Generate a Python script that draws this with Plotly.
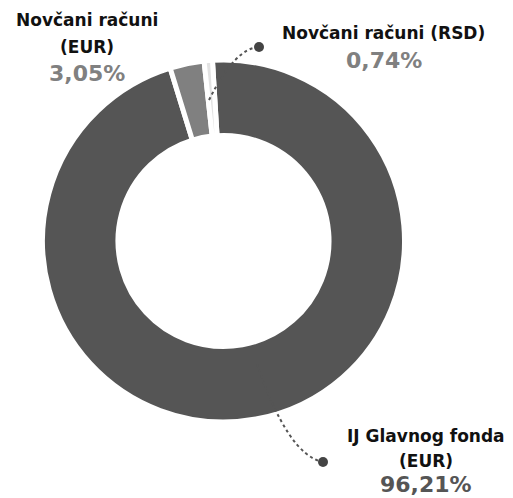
import plotly.graph_objects as go

# Data
labels = ["IJ Glavnog fonda (EUR)", "Novčani računi (EUR)", "Novčani računi (RSD)"]
values = [96.21, 3.05, 0.74]
colors = ["#555555", "#808080", "#e2e2e2"]
pct_colors = ["#555555", "#808080", "#808080"]

W, H = 513, 498

def px(x):
    return x / W

def py(y):
    return 1 - y / H

cx, cy, R = 223.5, 241, 181

fig = go.Figure(go.Pie(
    labels=labels,
    values=values,
    sort=False,
    direction="clockwise",
    rotation=-3.5,
    hole=0.583,
    marker=dict(colors=colors, line=dict(color="white", width=5)),
    textinfo="none",
    hoverinfo="label+percent",
    domain=dict(x=[px(cx - R), px(cx + R)], y=[py(cy + R), py(cy - R)]),
))

def fmt(v):
    return f"{v:.2f}".replace(".", ",") + "%"

lab_font = dict(family="DejaVu Sans, sans-serif", size=17, color="#111111", weight=700)
pct_font = dict(family="DejaVu Sans, sans-serif", size=22, weight=700)

# label blocks: (lines, center x, line mid ys, pct y, index)
blocks = [
    (["Novčani računi", "(EUR)"], 86.5, [20.5, 47], 73, 1),
    (["Novčani računi (RSD)"], 383.5, [33.5], 60.5, 2),
    (["IJ Glavnog fonda", "(EUR)"], 426, [435.5, 461], None, 0),
]
annotations = []
for lines, x, ys, yp, i in blocks:
    for t, y in zip(lines, ys):
        annotations.append(dict(text=t, x=px(x), y=py(y), xref="paper", yref="paper",
                                xanchor="center", yanchor="middle", showarrow=False,
                                borderpad=0, font=lab_font))
    if yp is None:
        annotations.append(dict(text=fmt(values[i]), x=px(x), y=0, xref="paper", yref="paper",
                                xanchor="center", yanchor="bottom", showarrow=False,
                                borderpad=0, font=dict(pct_font, color=pct_colors[i])))
    else:
        annotations.append(dict(text=fmt(values[i]), x=px(x), y=py(yp), xref="paper", yref="paper",
                                xanchor="center", yanchor="middle", showarrow=False,
                                borderpad=0, font=dict(pct_font, color=pct_colors[i])))

def P(x, y):
    return f"{px(x)},{py(y)}"

shapes = [
    dict(type="path", xref="paper", yref="paper",
         path=f"M {P(209,100)} Q {P(235,48)} {P(259,47)}",
         line=dict(color="#555555", width=2, dash="dot")),
    dict(type="path", xref="paper", yref="paper",
         path=f"M {P(257,364)} Q {P(288,455)} {P(323,462)}",
         line=dict(color="#555555", width=2, dash="dot")),
    dict(type="circle", xref="paper", yref="paper",
         x0=px(254), x1=px(264), y0=py(52), y1=py(42),
         fillcolor="#444444", line=dict(width=0)),
    dict(type="circle", xref="paper", yref="paper",
         x0=px(318), x1=px(328), y0=py(467), y1=py(457),
         fillcolor="#444444", line=dict(width=0)),
]

fig.update_layout(
    width=W, height=H,
    margin=dict(l=0, r=0, t=0, b=0),
    paper_bgcolor="white", plot_bgcolor="white",
    showlegend=False,
    annotations=annotations,
    shapes=shapes,
)

fig.write_html("out.html",
               config={"displayModeBar": False},
               post_script="document.body.style.margin='0';document.body.style.overflow='hidden';")
